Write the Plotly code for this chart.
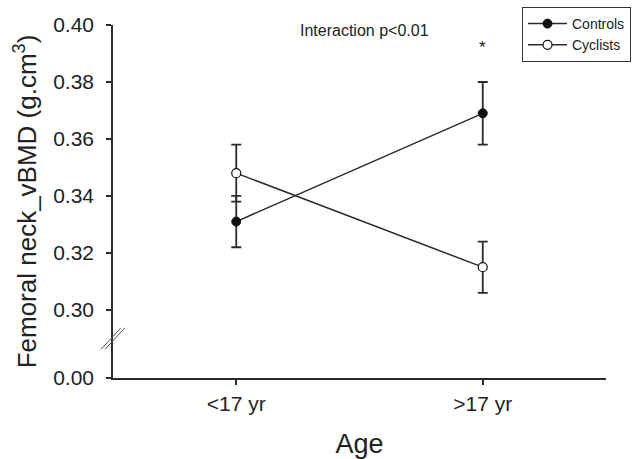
import plotly.graph_objects as go

categories = ["<17 yr", ">17 yr"]
cat_pos = [0.5, 1.5]
controls = [0.331, 0.369]
controls_err = [0.009, 0.011]
cyclists = [0.348, 0.315]
cyclists_err = [0.010, 0.009]

ytick_vals = [0.2761, 0.30, 0.32, 0.34, 0.36, 0.38, 0.40]
ytick_text = ["0.00", "0.30", "0.32", "0.34", "0.36", "0.38", "0.40"]

FONT = "Liberation Sans, Arial, sans-serif"
LC = "#2b2b2b"
TC = "#222222"

fig = go.Figure()
fig.add_trace(go.Scatter(
    x=cat_pos, y=controls, mode="lines+markers", name="Controls",
    line=dict(color=LC, width=1.5),
    marker=dict(size=9, color="#111111", line=dict(color="#111111", width=1)),
    error_y=dict(type="data", array=controls_err, color=LC, thickness=1.8, width=5),
))
fig.add_trace(go.Scatter(
    x=cat_pos, y=cyclists, mode="lines+markers", name="Cyclists",
    line=dict(color=LC, width=1.5),
    marker=dict(size=9, color="white", line=dict(color="#111111", width=1.2)),
    error_y=dict(type="data", array=cyclists_err, color=LC, thickness=1.8, width=5),
))

fig.update_layout(
    width=633, height=459,
    margin=dict(l=113, r=27, t=25, b=81, autoexpand=False),
    paper_bgcolor="white", plot_bgcolor="white",
    font=dict(family=FONT, color=TC),
    showlegend=True,
    legend=dict(x=0.8296, y=1.051, xanchor="left", yanchor="top",
                bordercolor="#333333", borderwidth=1, bgcolor="white",
                font=dict(size=14, family=FONT), itemwidth=39),
    xaxis=dict(range=[0, 2], tickvals=cat_pos, ticktext=categories,
               showline=True, linecolor=LC, linewidth=1.5, ticks="outside",
               ticklen=5, tickcolor=LC, tickwidth=1.5, showgrid=False, zeroline=False,
               ticklabelstandoff=1,
               tickfont=dict(size=21), title=dict(text="Age", font=dict(size=27), standoff=22)),
    yaxis=dict(range=[0.2761, 0.40], tickvals=ytick_vals, ticktext=ytick_text,
               showline=True, linecolor=LC, linewidth=1.5, ticks="outside",
               ticklen=5, tickcolor=LC, tickwidth=1.5, showgrid=False, zeroline=False,
               ticklabelstandoff=8,
               tickfont=dict(size=21),
               title=dict(text="Femoral neck_vBMD (g.cm<sup>3</sup>)", font=dict(size=26), standoff=9)),
)

fig.add_annotation(text="Interaction p<0.01", xref="paper", yref="paper",
                   x=(364 - 113) / 493, y=(378 - 30) / 353, yanchor="middle",
                   showarrow=False, font=dict(size=16, family=FONT, color=TC))
fig.add_annotation(text="*", xref="x", yref="paper", x=cat_pos[1], y=(378 - 47) / 353,
                   yanchor="middle", showarrow=False,
                   font=dict(size=17, family=FONT, color=TC))

# axis break marks
for dx in (-0.004, 0.004):
    fig.add_shape(type="line", xref="paper", yref="y",
                  x0=-0.02 + dx, x1=0.02 + dx, y0=0.2862, y1=0.2937,
                  line=dict(color="#555555", width=1))

fig.write_html("out.html", config={"displayModeBar": False},
               post_script="document.body.style.margin='0';")
